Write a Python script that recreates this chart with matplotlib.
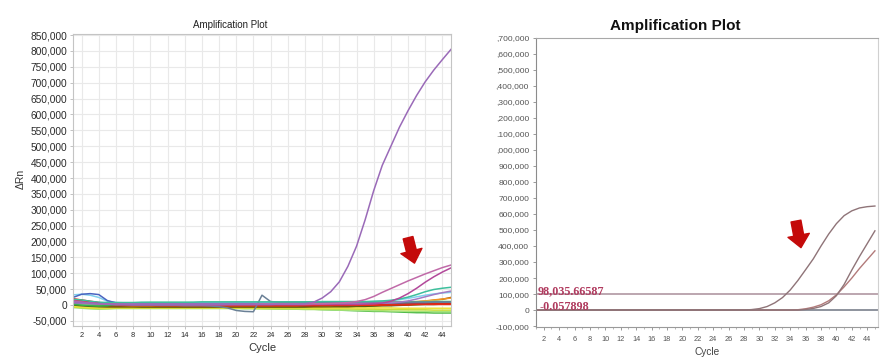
import matplotlib
matplotlib.use("Agg")
import matplotlib.pyplot as plt
import numpy as np

plt.rcParams['font.family'] = ['Liberation Sans', 'DejaVu Sans']

# ---------------- data (values in thousands of ΔRn) ----------------
cycles = list(range(1, 46))

# Left panel: amplification curves
purple_main = [10, 8, 6, 4, 3, 2, 2, 1, 1, 1,
               1, 1, 1, 1, 1, 1, 1, 1, 2, 2,
               2, 2, 2, 2, 3, 3, 3, 4, 9, 22,
               42, 73, 122, 185, 268, 360, 440, 500, 560, 612,
               660, 703, 740, 773, 805]
pink_a = [12, 9, 6, 4, 3, 2, 2, 2, 2, 2,
          2, 2, 2, 2, 2, 2, 2, 2, 2, 2,
          2, 2, 3, 3, 3, 3, 3, 3, 4, 4,
          5, 6, 8, 11, 17, 27, 40, 52, 64, 76,
          87, 98, 108, 118, 126]
magenta_b = [14, 10, 7, 5, 3, 2, 1, 1, 1, 1,
             1, 1, 1, 1, 1, 1, 1, 1, 1, 1,
             1, 1, 1, 1, 1, 1, 1, 1, 2, 2,
             2, 2, 2, 2, 3, 4, 6, 12, 22, 36,
             53, 72, 89, 104, 117]
teal = [18, 16, 12, 9, 8, 8, 8, 8, 9, 9,
        9, 9, 9, 9, 9, 10, 10, 10, 10, 10,
        10, 10, 10, 10, 10, 10, 10, 10, 10, 11,
        11, 11, 11, 11, 11, 12, 13, 15, 19, 25,
        33, 42, 49, 53, 56]
lavender = [8, 6, 5, 4, 3, 3, 3, 3, 3, 3,
            3, 3, 3, 3, 3, 3, 3, 3, 3, 3,
            3, 3, 4, 4, 4, 4, 4, 4, 4, 4,
            4, 4, 4, 5, 5, 5, 6, 7, 9, 13,
            19, 26, 33, 39, 44]
blue_dark = [24, 34, 36, 33, 14, 7, 6, 5, 5, 5,
             5, 5, 5, 5, 5, 5, 5, 5, 5, 5,
             5, 5, 5, 5, 5, 5, 5, 5, 5, 5,
             6, 6, 6, 6, 6, 6, 7, 7, 7, 8,
             8, 8, 9, 9, 9]
light_blue = [32, 34, 31, 24, 12, 8, 7, 7, 7, 7,
              7, 7, 7, 7, 8, 8, 8, 8, 8, 8,
              8, 8, 8, 8, 8, 9, 9, 9, 9, 9,
              9, 9, 10, 10, 10, 11, 12, 14, 17, 21,
              26, 31, 35, 38, 40]
grey_blue = [6, 5, 4, 3, 2, 1, 1, 0, 0, 0,
             -1, -1, -1, -2, -2, -2, -3, -5, -9, -17,
             -20, -21, 31, 11, 9, 9, 9, 9, 9, 9,
             9, 9, 9, 9, 9, 9, 9, 9, 9, 9,
             9, 9, 9, 9, 9]
green_bright = [2, 0, -2, -3, -2, 2, 4, 5, 6, 6,
                6, 6, 6, 7, 7, 7, 7, 7, 7, 7,
                7, 7, 7, 7, 7, 8, 8, 8, 8, 8,
                8, 8, 8, 8, 8, 8, 8, 8, 8, 9,
                9, 9, 9, 9, 9]
pale_green = [4, 2, 0, 1, 3, 5, 6, 7, 7, 8,
              8, 8, 8, 8, 8, 9, 9, 9, 9, 9,
              9, 9, 9, 9, 10, 10, 10, 10, 10, 10,
              10, 10, 10, 10, 10, 10, 10, 11, 11, 11,
              11, 11, 12, 12, 12]
red_1 = [20, 16, 12, 8, 5, 3, 2, 1, 1, 0,
         0, 0, 0, 0, 0, 0, 0, 0, 0, 0,
         0, 0, 0, 0, 0, 0, 0, 0, 0, 0,
         0, 0, 0, 1, 1, 1, 1, 2, 2, 2,
         3, 3, 3, 3, 3]
red_2 = [16, 14, 10, 6, 4, 2, 1, 0, 0, 0,
         -1, -1, -1, -1, -1, -1, -1, -1, -1, -1,
         -1, -1, -1, -1, -1, -1, -1, 0, 0, 0,
         0, 0, 0, 0, 0, 0, 1, 1, 1, 1,
         2, 2, 2, 2, 2]
dark_red = [12, 10, 8, 5, 3, 1, 0, -1, -1, -1,
            -2, -2, -2, -2, -2, -2, -2, -2, -2, -2,
            -2, -2, -2, -2, -2, -2, -2, -2, -2, -1,
            -1, -1, -1, 0, 0, 0, 1, 1, 2, 2,
            3, 3, 4, 4, 5]
orange = [8, 6, 4, 2, 1, 0, -1, -2, -2, -2,
          -2, -2, -2, -2, -2, -2, -2, -2, -2, -2,
          -2, -2, -2, -2, -2, -2, -2, -1, -1, -1,
          -1, 0, 0, 1, 2, 3, 4, 5, 7, 9,
          11, 13, 16, 19, 22]
brown = [4, 2, 0, -2, -3, -3, -3, -3, -3, -4,
         -4, -4, -4, -5, -5, -5, -5, -6, -6, -5,
         -5, -4, -4, -4, -4, -3, -3, -3, -3, -2,
         -2, -2, -1, 0, 1, 2, 3, 4, 6, 8,
         10, 12, 15, 18, 24]
olive = [2, 0, -2, -4, -5, -5, -5, -5, -5, -5,
         -5, -5, -5, -5, -5, -5, -5, -5, -5, -5,
         -5, -5, -5, -5, -5, -5, -5, -4, -4, -4,
         -4, -3, -3, -3, -2, -1, 0, 1, 2, 3,
         4, 5, 6, 7, 8]
dark_olive = [0, -2, -4, -5, -5, -5, -5, -5, -6, -6,
              -6, -6, -6, -6, -6, -6, -6, -6, -6, -6,
              -6, -6, -6, -6, -6, -6, -6, -6, -5, -5,
              -5, -5, -5, -4, -4, -3, -2, -2, -1, 0,
              1, 2, 2, 3, 3]
mustard = [6, 3, 0, -3, -5, -6, -6, -6, -6, -6,
           -6, -6, -6, -6, -6, -6, -6, -6, -6, -6,
           -6, -6, -6, -6, -6, -6, -6, -6, -6, -6,
           -5, -5, -5, -4, -4, -3, -2, -1, 0, 1,
           2, 3, 4, 5, 6]
yellow = [-4, -6, -8, -9, -9, -8, -8, -8, -8, -8,
          -8, -8, -8, -8, -8, -8, -8, -8, -8, -8,
          -8, -8, -8, -8, -8, -8, -8, -9, -9, -9,
          -9, -9, -9, -9, -9, -9, -9, -9, -10, -10,
          -10, -10, -10, -10, -10]
yellow_green = [-6, -8, -10, -11, -11, -10, -10, -10, -10, -10,
                -10, -10, -10, -10, -10, -10, -10, -10, -10, -10,
                -10, -10, -11, -11, -11, -11, -11, -11, -12, -12,
                -12, -12, -12, -13, -13, -13, -14, -14, -14, -15,
                -15, -15, -16, -16, -16]
light_green = [-8, -10, -12, -13, -12, -11, -11, -11, -11, -11,
               -11, -11, -11, -11, -11, -11, -11, -11, -11, -11,
               -12, -12, -12, -12, -13, -13, -13, -14, -14, -15,
               -15, -16, -16, -17, -17, -18, -18, -19, -19, -20,
               -20, -20, -21, -21, -21]
green_dark = [-5, -7, -9, -10, -10, -9, -9, -9, -9, -9,
              -9, -9, -9, -9, -9, -9, -9, -9, -9, -9,
              -10, -10, -10, -11, -11, -12, -12, -13, -13, -14,
              -15, -16, -17, -18, -19, -20, -20, -21, -22, -23,
              -24, -24, -25, -25, -25]

left_yticks = list(range(-50, 851, 50))
left_xticks = list(range(2, 45, 2))

# Right panel: amplification curves and thresholds
early_sample = [0, 0, 0, 0, 0, 0, 0, 0, 0, 0,
                0, 0, 0, 0, 0, 0, 0, 0, 0, 0,
                0, 0, 0, 0, 0, 0, 0, 0, 3, 9,
                22, 45, 78, 125, 185, 252, 320, 400, 475, 540,
                590, 620, 638, 646, 650]
late_sample_a = [0, 0, 0, 0, 0, 0, 0, 0, 0, 0,
                 0, 0, 0, 0, 0, 0, 0, 0, 0, 0,
                 0, 0, 0, 0, 0, 0, 0, 0, 0, 0,
                 0, 0, 0, 0, 0, 4, 10, 22, 45, 90,
                 160, 250, 335, 415, 495]
late_sample_b = [0, 0, 0, 0, 0, 0, 0, 0, 0, 0,
                 0, 0, 0, 0, 0, 0, 0, 0, 0, 0,
                 0, 0, 0, 0, 0, 0, 0, 0, 0, 0,
                 0, 0, 0, 0, 2, 8, 18, 33, 58, 95,
                 145, 200, 260, 315, 370]
threshold_high = 98035.66587
threshold_low = -0.057898
threshold_labels = ["98,035.66587", "-0.057898"]
right_yticks = list(range(-100, 1701, 100))
right_yticklabels = ["-100,000", "0", "100,000", "200,000", "300,000", "400,000",
                     "500,000", "600,000", "700,000", "800,000", "900,000",
                     ",000,000", ".100,000", ",200,000", ",300,000", ",400,000",
                     ",500,000", ",600,000", ",700,000"]
right_xticks = list(range(2, 45, 2))

# ---------------- figure ----------------
W, H = 887, 362
fig = plt.figure(figsize=(W / 100, H / 100), dpi=100)


def px_axes(x0, y0, x1, y1):
    return fig.add_axes([x0 / W, 1 - y1 / H, (x1 - x0) / W, (y1 - y0) / H])


# ---- left panel ----
axL = px_axes(73, 33.5, 451, 325.7)
baseline = [
    (green_dark, '#4cb848'), (light_green, '#a6e37a'), (yellow_green, '#c8de3a'),
    (yellow, '#ece33a'), (mustard, '#e0b020'), (dark_olive, '#4f5614'),
    (olive, '#6e6010'), (brown, '#8a5a16'), (orange, '#f39321'),
    (pale_green, '#9ee29a'), (green_bright, '#35b54a'), (dark_red, '#a3200f'),
    (red_2, '#ff3a05'), (red_1, '#e0281c'), (light_blue, '#7fd0ee'),
    (blue_dark, '#4a64c0'), (grey_blue, '#6a8096'), (teal, '#3cbf9c'),
    (lavender, '#a47ac4'), (magenta_b, '#b2489a'), (pink_a, '#c06aa8'),
    (purple_main, '#9a6ab8'),
]
for vals, col in baseline:
    axL.plot(cycles, np.array(vals) * 1000, color=col, lw=1.1, solid_joinstyle='round')

axL.set_xlim(1, 45)
axL.set_ylim(-65000, 855000)
axL.set_xticks(left_xticks)
axL.set_xticklabels([str(v) for v in left_xticks], fontsize=5.4)
axL.set_yticks([v * 1000 for v in left_yticks])
axL.set_yticklabels([f"{v * 1000:,}" for v in left_yticks], fontsize=7.3)
axL.grid(True, color='#e9e9e9', lw=0.8)
axL.set_axisbelow(True)
axL.tick_params(length=2.5, width=0.6, color='#b8b8b8', labelcolor='#2a2a2a', pad=1.8)
for s in axL.spines.values():
    s.set_color('#c4c4c4')
    s.set_linewidth(0.8)

fig.text(229.7 / W, 1 - 25 / H, "Amplification Plot", fontsize=7, ha='center', va='center', color='#222')
fig.text(262 / W, 1 - 348 / H, "Cycle", fontsize=8, ha='center', va='center', color='#333')
fig.text(21 / W, 1 - 179 / H, "ΔRn", fontsize=7.5, ha='center', va='center', rotation=90, color='#333')

axL.annotate('', xy=(40.75, 132000), xytext=(40.0, 212000),
             arrowprops=dict(arrowstyle='simple,head_length=0.45,head_width=0.78,tail_width=0.36',
                             mutation_scale=20, color='#c40a0a', shrinkA=0, shrinkB=0))

# ---- right panel ----
axR = px_axes(536, 38, 878, 326.7)
axR.axhline(threshold_high, color='#aa8e9a', lw=1.1)
axR.axhline(threshold_low, color='#6f7582', lw=1.1)
axR.plot(cycles, np.array(late_sample_b) * 1000, color='#b27a7a', lw=1.0)
axR.plot(cycles, np.array(late_sample_a) * 1000, color='#8f7478', lw=1.0)
axR.plot(cycles, np.array(early_sample) * 1000, color='#8f7478', lw=1.0)

axR.text(1.15, threshold_high, threshold_labels[0], family=['Liberation Serif', 'DejaVu Serif'],
         fontsize=8.7, fontweight='bold', color='#b03a5e', ha='left', va='baseline')
axR.text(1.4, threshold_low, threshold_labels[1], family=['Liberation Serif', 'DejaVu Serif'],
         fontsize=8.7, fontweight='bold', color='#b03a5e', ha='left', va='baseline')

axR.set_xlim(1.05, 45.4)
axR.set_ylim(-104000, 1692000)
axR.set_xticks(right_xticks)
axR.set_xticklabels([str(v) for v in right_xticks], fontsize=5.3)
axR.set_xticks(cycles, minor=True)
axR.set_yticks([v * 1000 for v in right_yticks])
axR.set_yticklabels(right_yticklabels, fontsize=6.1)
axR.tick_params(length=2.5, width=0.6, color='#8a8a8a', labelcolor='#555555', pad=2.5)
axR.tick_params(axis='x', which='minor', length=1.5, width=0.5, color='#9a9a9a')
axR.tick_params(axis='x', pad=4)
axR.spines['left'].set_color('#8c8c8c')
axR.spines['bottom'].set_color('#9a9a9a')
axR.spines['top'].set_color('#a8a8a8')
axR.spines['right'].set_color('#d0d0d0')
for s in axR.spines.values():
    s.set_linewidth(0.8)

fig.text(675 / W, 1 - 25.7 / H, "Amplification Plot", fontsize=11, fontweight='bold',
         ha='center', va='center', color='#111')
fig.text(707 / W, 1 - 352 / H, "Cycle", fontsize=7.3, ha='center', va='center', color='#444')

axR.annotate('', xy=(35.4, 390000), xytext=(34.75, 556000),
             arrowprops=dict(arrowstyle='simple,head_length=0.45,head_width=0.78,tail_width=0.36',
                             mutation_scale=20, color='#c40a0a', shrinkA=0, shrinkB=0))

fig.savefig("out.png", dpi=100)
